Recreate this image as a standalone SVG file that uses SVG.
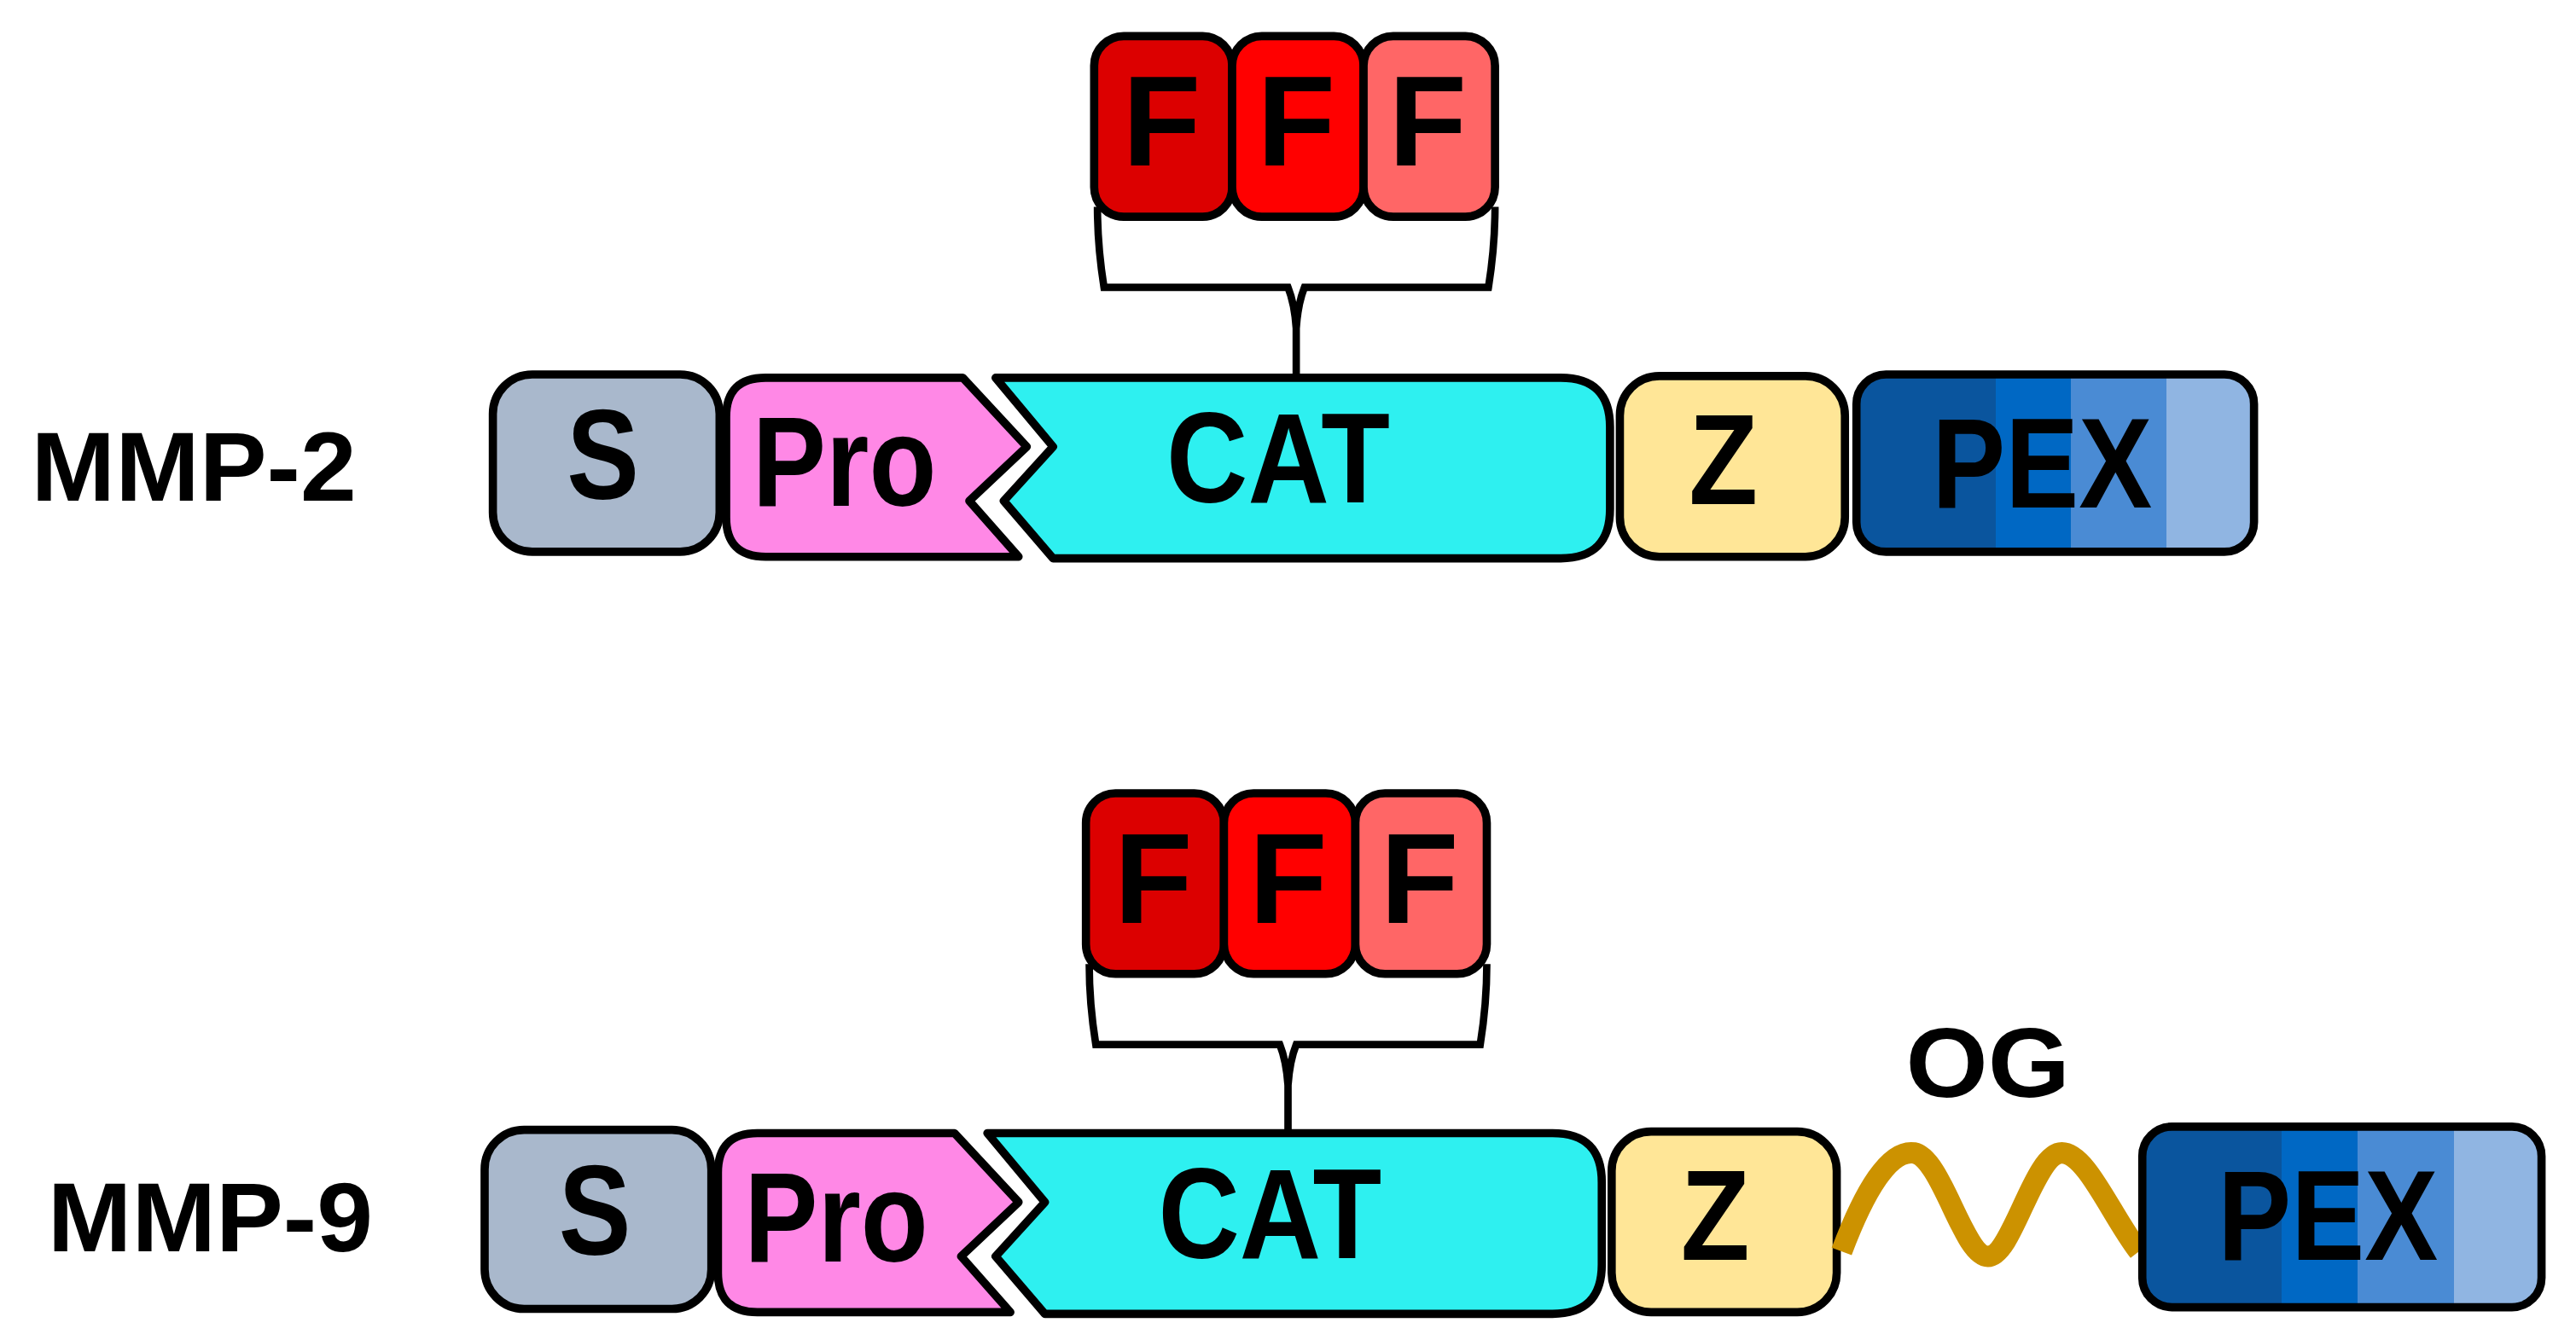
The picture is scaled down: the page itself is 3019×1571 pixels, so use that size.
<svg xmlns="http://www.w3.org/2000/svg" width="3019" height="1571" viewBox="0 0 3019 1571">
<defs>
<style>
.b{stroke:#000;stroke-width:5;stroke-linejoin:round}
.t{font-family:"Liberation Sans",Arial,sans-serif;font-weight:bold;fill:#000;text-anchor:middle}
.d{font-size:78px}
.l{font-size:60px}
.br{fill:none;stroke:#000;stroke-width:4.5}
</style>
<linearGradient id="pex" x1="0" x2="1" y1="0" y2="0">
<stop offset="0" stop-color="#0a559e"/><stop offset="0.35" stop-color="#0a559e"/>
<stop offset="0.35" stop-color="#0068c4"/><stop offset="0.54" stop-color="#0068c4"/>
<stop offset="0.54" stop-color="#4a8bd4"/><stop offset="0.78" stop-color="#4a8bd4"/>
<stop offset="0.78" stop-color="#90b5e2"/><stop offset="1" stop-color="#90b5e2"/>
</linearGradient>
</defs>
<rect width="3019" height="1571" fill="#fff"/>
<g transform="scale(1.9254)">
<g id="mmp2">
<text class="t l" x="118" y="305" textLength="198" lengthAdjust="spacingAndGlyphs">MMP-2</text>
<g id="mmp2-S"><rect class="b" x="300" y="228" width="138" height="108" rx="24" fill="#a9b8cc"/><text class="t d" x="367" y="304" textLength="44" lengthAdjust="spacingAndGlyphs">S</text></g>
<g id="mmp2-Pro"><path class="b" d="M466,230 H586 L625,272 L590,305 L620,339 H466 Q442,339 442,315 V254 Q442,230 466,230 Z" fill="#ff88e6"/><text class="t d" x="514" y="308" textLength="112" lengthAdjust="spacingAndGlyphs">Pro</text></g>
<g id="mmp2-CAT"><path class="b" d="M606,230 H950 Q980,230 980,260 V310 Q980,340 950,340 H641 L611,305 L641,272 Z" fill="#2ef0f0"/><text class="t d" x="778" y="306" textLength="136" lengthAdjust="spacingAndGlyphs">CAT</text></g>
<g id="mmp2-Z"><rect class="b" x="986" y="229" width="137" height="110" rx="24" fill="#ffe697"/><text class="t d" x="1049" y="307" textLength="42" lengthAdjust="spacingAndGlyphs">Z</text></g>
<g id="mmp2-PEX"><rect class="b" x="1130" y="228" width="242" height="108" rx="18" fill="url(#pex)"/><text class="t d" x="1243" y="309" textLength="134" lengthAdjust="spacingAndGlyphs">PEX</text></g>
<g id="mmp2-F">
<rect class="b" x="666" y="22" width="84" height="110" rx="18" fill="#dc0000"/><text class="t d" x="707" y="101">F</text>
<rect class="b" x="750" y="22" width="80" height="110" rx="18" fill="#ff0000"/><text class="t d" x="789" y="101">F</text>
<rect class="b" x="830" y="22" width="80" height="110" rx="18" fill="#ff6666"/><text class="t d" x="869" y="101">F</text>
</g>
</g>
<g id="mmp9">
<text class="t l" x="128" y="762" textLength="198" lengthAdjust="spacingAndGlyphs">MMP-9</text>
<g id="mmp9-S"><rect class="b" x="295" y="688" width="138" height="109" rx="24" fill="#a9b8cc"/><text class="t d" x="362" y="764" textLength="44" lengthAdjust="spacingAndGlyphs">S</text></g>
<g id="mmp9-Pro"><path class="b" d="M461,690 H581 L620,732 L585,765 L615,799 H461 Q437,799 437,775 V714 Q437,690 461,690 Z" fill="#ff88e6"/><text class="t d" x="509" y="768" textLength="112" lengthAdjust="spacingAndGlyphs">Pro</text></g>
<g id="mmp9-CAT"><path class="b" d="M601,690 H945 Q975,690 975,720 V770 Q975,800 945,800 H636 L606,765 L636,732 Z" fill="#2ef0f0"/><text class="t d" x="773" y="766" textLength="136" lengthAdjust="spacingAndGlyphs">CAT</text></g>
<g id="mmp9-Z"><rect class="b" x="981" y="689" width="137" height="110" rx="24" fill="#ffe697"/><text class="t d" x="1044" y="767" textLength="42" lengthAdjust="spacingAndGlyphs">Z</text></g>
<g id="mmp9-OG"><path d="M1121,762 C1135,725 1150,700 1165,702 C1182,705 1195,765 1210,765 C1225,765 1238,702 1255,702 C1270,702 1285,740 1302,762" fill="none" stroke="#cc9200" stroke-width="13"/><text class="t l" x="1210" y="668" textLength="100" lengthAdjust="spacingAndGlyphs">OG</text></g>
<g id="mmp9-PEX"><rect class="b" x="1304" y="686" width="243" height="110" rx="18" fill="url(#pex)"/><text class="t d" x="1417" y="767" textLength="134" lengthAdjust="spacingAndGlyphs">PEX</text></g>
<g id="mmp9-F">
<rect class="b" x="661" y="483" width="84" height="110" rx="18" fill="#dc0000"/><text class="t d" x="702" y="562">F</text>
<rect class="b" x="745" y="483" width="80" height="110" rx="18" fill="#ff0000"/><text class="t d" x="784" y="562">F</text>
<rect class="b" x="825" y="483" width="80" height="110" rx="18" fill="#ff6666"/><text class="t d" x="864" y="562">F</text>
</g>
</g>
<g id="connectors">
<path class="br" d="M668,126 Q668,150 672,175 H784 Q788,185 789,200 V230 M910,126 Q910,150 906,175 H794 Q790,185 789,200"/>
<path class="br" d="M663,587 Q663,611 667,636 H779 Q783,646 784,661 V690 M905,587 Q905,611 901,636 H789 Q785,646 784,661"/>
</g>
</g>
</svg>
